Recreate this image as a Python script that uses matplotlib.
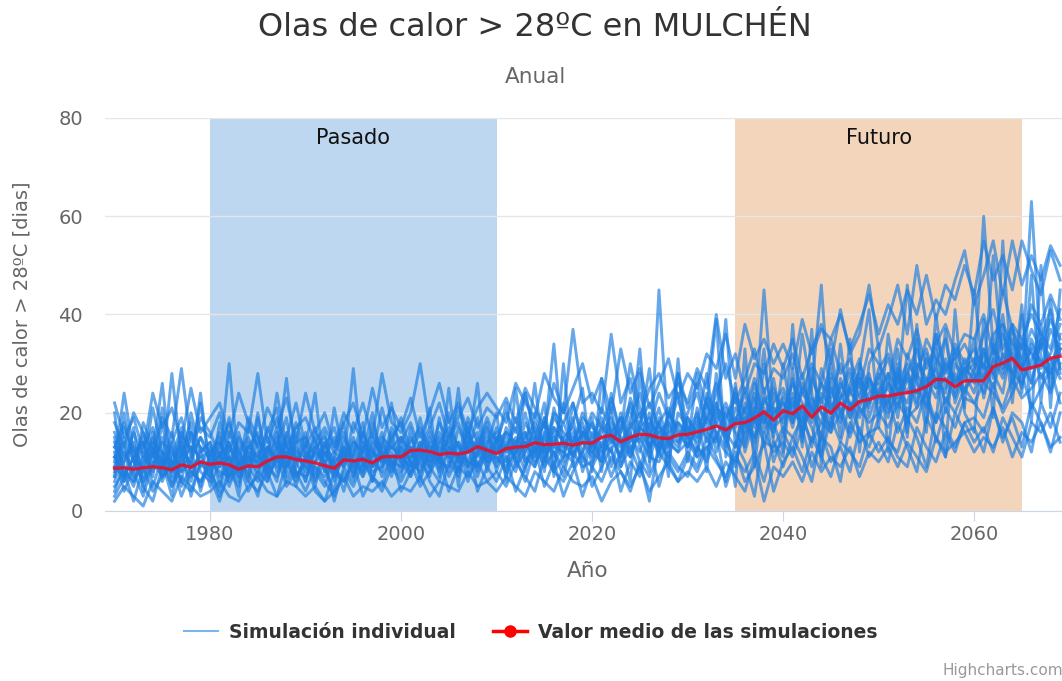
import matplotlib
matplotlib.use("Agg")
import matplotlib.pyplot as plt
from matplotlib.lines import Line2D

# years of the simulations (chart is cut at the right, around 2069)
years = list(range(1970, 2070))

# mean of the simulations (red line)
mean_values = [
    8.7, 8.8, 8.5, 8.8, 9.0, 8.8, 8.4, 9.4, 8.9, 10.0,
    9.5, 9.8, 9.4, 8.5, 9.2, 9.0, 10.2, 11.0, 11.0, 10.5,
    10.2, 9.8, 9.2, 8.7, 10.4, 10.2, 10.5, 9.8, 11.0, 11.1,
    11.0, 12.3, 12.4, 12.1, 11.5, 11.8, 11.6, 12.0, 13.1, 12.4,
    11.7, 12.7, 13.0, 13.1, 13.9, 13.5, 13.6, 13.8, 13.4, 13.9,
    13.8, 15.0, 15.4, 14.1, 15.0, 15.6, 15.5, 14.9, 14.7, 15.5,
    15.6, 16.1, 16.6, 17.3, 16.5, 17.8, 18.0, 18.9, 20.2, 18.5,
    20.4, 19.8, 21.4, 19.1, 21.2, 19.9, 22.0, 20.6, 22.3, 22.7,
    23.4, 23.4, 23.8, 24.1, 24.5, 25.3, 26.8, 26.7, 25.3, 26.5,
    26.5, 26.5, 29.4, 30.1, 31.1, 28.7, 29.2, 29.7, 31.1, 31.5,
]

# individual simulations (blue lines)
sim_01 = [
    14, 9, 5, 12, 7, 18, 6, 10, 13, 4, 11, 16, 8, 5, 14, 9, 12, 17, 7, 10,
    6, 13, 9, 4, 15, 11, 8, 18, 12, 7, 14, 10, 19, 9, 6, 13, 11, 16, 8, 12,
    9, 17, 13, 8, 20, 12, 15, 10, 22, 14, 11, 18, 9, 16, 21, 13, 8, 45, 14, 12,
    19, 15, 23, 12, 18, 25, 14, 21, 17, 27, 16, 24, 20, 13, 29, 22, 18, 26, 31, 19,
    25, 21, 33, 18, 28, 24, 36, 20, 30, 27, 35, 23, 31, 40, 26, 34, 29, 38, 25, 33,
]
sim_02 = [
    6, 12, 8, 3, 10, 7, 14, 5, 9, 11, 8, 4, 13, 10, 6, 15, 9, 7, 12, 5,
    12, 8, 5, 11, 9, 6, 14, 10, 8, 16, 9, 13, 7, 15, 11, 8, 17, 12, 19, 10,
    14, 11, 8, 16, 12, 19, 9, 15, 11, 17, 13, 21, 16, 10, 18, 14, 20, 12, 17, 23,
    15, 12, 20, 26, 16, 13, 22, 18, 45, 20, 23, 17, 26, 21, 15, 28, 24, 19, 30, 25,
    22, 28, 19, 32, 26, 21, 30, 35, 24, 29, 27, 60, 33, 28, 37, 30, 26, 35, 41, 29,
]
sim_03 = [
    10, 24, 12, 7, 15, 9, 28, 11, 6, 13, 5, 10, 30, 8, 11, 7, 13, 9, 15, 11,
    9, 7, 12, 8, 10, 29, 9, 13, 7, 11, 12, 8, 10, 14, 9, 16, 10, 13, 11, 15,
    10, 13, 17, 11, 9, 15, 34, 12, 16, 10, 15, 12, 14, 19, 11, 17, 15, 13, 20, 16,
    13, 18, 15, 22, 14, 19, 17, 24, 13, 21, 18, 22, 16, 25, 46, 19, 27, 21, 24, 28,
    20, 26, 23, 29, 22, 31, 27, 24, 33, 28, 30, 26, 34, 29, 32, 28, 63, 31, 27, 36,
]
sim_04 = [
    2, 5, 3, 1, 6, 4, 2, 7, 5, 3, 4, 6, 3, 2, 5, 7, 4, 3, 6, 5,
    3, 5, 2, 4, 7, 3, 5, 4, 6, 3, 5, 4, 7, 3, 6, 5, 4, 8, 5, 6,
    4, 7, 5, 3, 8, 6, 4, 9, 6, 5, 7, 2, 6, 8, 5, 9, 4, 7, 10, 6,
    8, 6, 9, 5, 10, 7, 4, 11, 2, 9, 7, 10, 6, 12, 8, 11, 9, 13, 7, 12,
    10, 13, 9, 14, 11, 8, 15, 12, 14, 16, 12, 15, 13, 17, 11, 16, 14, 18, 13, 15,
]
sim_05 = [
    18, 13, 20, 16, 11, 19, 15, 29, 14, 17, 15, 20, 12, 18, 16, 28, 14, 19, 13, 17,
    19, 14, 17, 13, 20, 16, 22, 15, 28, 18, 16, 20, 30, 17, 22, 15, 19, 23, 17, 21,
    19, 23, 18, 25, 21, 17, 26, 20, 37, 22, 24, 20, 36, 22, 27, 19, 25, 28, 23, 26,
    22, 29, 25, 40, 27, 32, 24, 30, 28, 34, 29, 35, 27, 33, 38, 30, 41, 32, 36, 46,
    33, 39, 46, 36, 50, 38, 43, 40, 47, 53, 42, 48, 55, 44, 55, 46, 52, 47, 54, 50,
]
sim_06 = [
    9, 7, 11, 14, 8, 12, 10, 6, 16, 9, 13, 9, 11, 7, 10, 12, 8, 14, 11, 16,
    11, 9, 7, 10, 12, 8, 13, 9, 11, 14, 10, 15, 11, 9, 13, 12, 8, 14, 16, 11,
    13, 10, 15, 12, 17, 11, 14, 18, 13, 16, 12, 16, 19, 14, 11, 17, 15, 21, 13, 18,
    16, 20, 14, 18, 22, 17, 21, 15, 23, 19, 22, 18, 25, 20, 23, 17, 26, 22, 19, 24,
    26, 22, 28, 24, 30, 27, 23, 31, 26, 29, 31, 27, 33, 30, 28, 35, 32, 29, 37, 33,
]
sim_07 = [
    12, 4, 9, 15, 5, 11, 8, 13, 3, 10, 7, 12, 5, 10, 8, 3, 11, 15, 6, 9,
    14, 6, 10, 2, 9, 13, 7, 11, 16, 8, 13, 7, 11, 16, 10, 9, 14, 6, 12, 18,
    8, 14, 11, 6, 13, 9, 12, 7, 15, 11, 9, 13, 7, 12, 16, 10, 2, 14, 11, 8,
    12, 9, 15, 11, 6, 14, 10, 3, 16, 12, 14, 11, 17, 9, 15, 13, 6, 18, 14, 16,
    17, 14, 12, 19, 15, 9, 20, 17, 13, 18, 19, 16, 21, 14, 20, 18, 12, 22, 17, 24,
]
sim_08 = [
    7, 15, 10, 9, 21, 12, 5, 9, 11, 22, 9, 14, 10, 6, 12, 11, 16, 21, 9, 13,
    8, 12, 10, 7, 11, 15, 9, 12, 10, 13, 11, 9, 14, 12, 8, 13, 11, 10, 15, 12,
    12, 15, 10, 14, 11, 19, 13, 12, 10, 16, 14, 11, 17, 13, 15, 12, 18, 16, 10, 20,
    17, 14, 19, 16, 13, 21, 18, 15, 20, 17, 19, 23, 17, 21, 18, 25, 20, 24, 22, 26,
    23, 25, 21, 27, 24, 26, 29, 22, 28, 25, 27, 30, 25, 32, 28, 26, 31, 34, 29, 32,
]
sim_09 = [
    11, 8, 6, 10, 12, 7, 9, 14, 8, 6, 10, 8, 7, 12, 9, 6, 10, 11, 14, 8,
    7, 10, 12, 9, 6, 10, 11, 8, 9, 12, 8, 11, 13, 10, 12, 7, 11, 9, 13, 10,
    11, 9, 12, 14, 10, 13, 8, 11, 12, 9, 10, 14, 12, 9, 13, 15, 11, 10, 14, 12,
    14, 11, 13, 15, 12, 10, 16, 19, 14, 13, 17, 15, 19, 14, 18, 16, 20, 15, 21, 18,
    20, 17, 22, 19, 21, 24, 18, 23, 20, 25, 22, 26, 24, 21, 27, 23, 25, 28, 24, 30,
]
sim_10 = [
    16, 11, 13, 6, 9, 14, 12, 8, 10, 15, 12, 7, 9, 14, 11, 8, 13, 10, 12, 7,
    10, 16, 13, 8, 12, 10, 7, 15, 11, 9, 15, 12, 9, 11, 14, 17, 13, 10, 9, 14,
    16, 12, 19, 13, 15, 10, 17, 14, 13, 19, 17, 15, 12, 20, 14, 18, 22, 17, 15, 13,
    20, 24, 17, 21, 19, 23, 16, 26, 18, 22, 25, 21, 28, 19, 26, 23, 30, 24, 27, 21,
    29, 32, 26, 30, 27, 35, 31, 28, 34, 30, 33, 29, 36, 38, 34, 31, 37, 33, 39, 35,
]
sim_11 = [
    4, 10, 14, 8, 16, 6, 11, 17, 7, 12, 14, 5, 16, 11, 7, 19, 10, 6, 15, 22,
    13, 24, 8, 11, 18, 7, 12, 20, 9, 15, 18, 9, 12, 21, 7, 25, 9, 13, 26, 8,
    15, 7, 12, 24, 16, 8, 21, 13, 18, 25, 8, 27, 15, 11, 23, 17, 29, 12, 19, 24,
    13, 28, 21, 39, 11, 26, 12, 19, 33, 15, 30, 18, 36, 24, 12, 33, 21, 16, 29, 41,
    17, 36, 24, 46, 28, 16, 40, 25, 32, 21, 45, 27, 52, 30, 38, 24, 48, 22, 43, 28,
]
sim_12 = [
    20, 6, 17, 4, 13, 10, 3, 12, 18, 8, 6, 18, 11, 3, 17, 13, 6, 12, 27, 10,
    16, 5, 14, 10, 4, 12, 18, 6, 13, 10, 7, 17, 6, 13, 10, 20, 5, 18, 7, 13,
    20, 6, 25, 9, 14, 22, 7, 30, 9, 12, 19, 8, 24, 14, 6, 28, 12, 19, 7, 31,
    10, 21, 8, 28, 17, 5, 33, 9, 25, 14, 11, 29, 13, 37, 9, 27, 15, 35, 12, 30,
    34, 12, 30, 15, 38, 18, 33, 11, 41, 20, 16, 39, 19, 55, 25, 42, 18, 50, 21, 45,
]
sim_13 = [
    8, 13, 6, 11, 9, 15, 7, 12, 10, 5, 12, 9, 14, 7, 11, 10, 15, 8, 13, 11,
    9, 12, 16, 6, 13, 10, 8, 14, 12, 9, 13, 10, 8, 12, 15, 11, 14, 9, 12, 16,
    12, 16, 14, 10, 13, 18, 11, 15, 17, 12, 16, 13, 18, 15, 12, 17, 19, 14, 16, 18,
    15, 19, 16, 14, 21, 18, 24, 17, 22, 25, 20, 26, 22, 18, 24, 21, 25, 29, 23, 27,
    24, 28, 25, 22, 29, 33, 26, 30, 27, 24, 29, 33, 27, 36, 31, 25, 34, 30, 32, 38,
]
sim_14 = [
    5, 8, 2, 9, 4, 7, 10, 3, 8, 6, 9, 3, 7, 10, 4, 8, 6, 11, 5, 8,
    4, 9, 6, 3, 8, 5, 10, 7, 4, 9, 6, 10, 5, 8, 11, 4, 9, 7, 10, 6,
    8, 5, 10, 7, 4, 11, 8, 6, 10, 3, 9, 6, 11, 8, 4, 10, 7, 12, 9, 6,
    11, 8, 13, 10, 7, 12, 6, 9, 14, 4, 10, 13, 8, 15, 11, 7, 14, 12, 9, 16,
    12, 15, 11, 9, 17, 13, 10, 16, 12, 18, 14, 17, 12, 19, 15, 11, 18, 16, 20, 14,
]
sim_15 = [
    22, 15, 19, 12, 24, 17, 21, 14, 25, 16, 19, 22, 15, 24, 18, 13, 21, 17, 23, 14,
    24, 16, 20, 13, 18, 22, 15, 25, 17, 21, 17, 23, 15, 20, 26, 18, 22, 16, 21, 24,
    21, 18, 26, 22, 19, 28, 23, 20, 25, 30, 22, 27, 20, 33, 24, 29, 21, 26, 31, 23,
    28, 25, 32, 29, 36, 27, 38, 31, 35, 30, 34, 29, 39, 32, 37, 35, 40, 33, 38, 44,
    36, 42, 38, 45, 40, 48, 39, 46, 43, 50, 44, 55, 47, 52, 45, 55, 49, 44, 53, 47,
]
sim_16 = [
    13, 18, 10, 16, 12, 8, 14, 19, 11, 15, 10, 13, 18, 12, 15, 10, 17, 13, 9, 14,
    15, 11, 13, 17, 10, 14, 12, 9, 15, 13, 11, 14, 17, 13, 10, 15, 18, 12, 14, 11,
    17, 13, 11, 18, 14, 12, 19, 16, 14, 20, 15, 19, 14, 17, 22, 16, 13, 18, 21, 15,
    19, 16, 22, 18, 15, 24, 20, 27, 19, 16, 24, 20, 18, 27, 22, 30, 19, 25, 28, 22,
    27, 31, 24, 28, 33, 25, 36, 29, 31, 34, 30, 36, 41, 33, 38, 35, 40, 36, 33, 41,
]
sim_17 = [
    3, 7, 11, 5, 2, 9, 13, 6, 4, 10, 7, 2, 9, 13, 6, 4, 8, 3, 10, 6,
    11, 4, 2, 8, 6, 10, 3, 7, 5, 11, 4, 8, 12, 6, 3, 10, 7, 14, 4, 9,
    6, 11, 4, 9, 13, 5, 10, 3, 8, 12, 5, 9, 13, 4, 10, 7, 14, 5, 12, 9,
    7, 13, 10, 16, 5, 11, 8, 12, 6, 14, 9, 15, 11, 6, 16, 10, 13, 8, 17, 11,
    14, 10, 18, 13, 8, 19, 15, 11, 20, 16, 17, 12, 21, 15, 19, 13, 22, 18, 12, 20,
]
sim_18 = [
    9, 17, 12, 14, 10, 21, 9, 16, 12, 19, 16, 11, 14, 9, 19, 15, 11, 24, 13, 10,
    13, 17, 11, 15, 9, 18, 14, 11, 21, 14, 19, 12, 16, 11, 18, 14, 21, 15, 13, 19,
    14, 20, 16, 24, 15, 13, 20, 18, 22, 15, 20, 17, 23, 16, 30, 21, 17, 24, 19, 28,
    21, 26, 18, 24, 30, 22, 27, 33, 24, 29, 27, 32, 24, 30, 26, 35, 28, 31, 25, 33,
    30, 26, 35, 31, 37, 29, 34, 38, 32, 36, 35, 40, 32, 45, 37, 33, 42, 38, 44, 39,
]
sim_19 = [
    15, 6, 9, 13, 17, 10, 5, 11, 16, 13, 11, 15, 6, 9, 13, 16, 7, 11, 8, 15,
    6, 14, 10, 12, 16, 9, 11, 6, 14, 10, 9, 13, 10, 7, 14, 11, 8, 17, 9, 13,
    11, 8, 14, 16, 9, 15, 12, 9, 14, 18, 12, 10, 16, 19, 13, 8, 17, 11, 15, 14,
    18, 13, 11, 20, 15, 9, 19, 14, 21, 10, 16, 12, 21, 17, 11, 19, 14, 22, 16, 13,
    19, 23, 16, 21, 18, 25, 14, 21, 17, 23, 22, 19, 26, 20, 24, 28, 21, 25, 29, 22,
]
sim_20 = [
    11, 14, 7, 18, 13, 9, 16, 8, 20, 12, 14, 10, 19, 8, 13, 11, 9, 16, 10, 18,
    12, 10, 14, 9, 13, 11, 16, 12, 10, 17, 14, 18, 12, 10, 16, 13, 11, 19, 14, 10,
    15, 12, 13, 20, 11, 16, 13, 22, 12, 14, 18, 13, 15, 11, 19, 24, 16, 12, 20, 17,
    13, 17, 28, 15, 20, 16, 13, 23, 18, 24, 19, 27, 15, 23, 20, 17, 23, 28, 20, 22,
    28, 20, 24, 27, 21, 32, 25, 27, 23, 30, 26, 32, 28, 24, 35, 29, 33, 27, 30, 34,
]
sim_21 = [
    7, 20, 10, 6, 12, 26, 8, 14, 9, 24, 8, 12, 7, 16, 9, 20, 8, 13, 19, 7,
    10, 15, 8, 21, 11, 7, 16, 9, 13, 22, 10, 7, 14, 8, 19, 10, 25, 8, 12, 9,
    13, 22, 9, 12, 26, 10, 16, 11, 19, 8, 14, 10, 21, 9, 15, 33, 10, 18, 12, 28,
    16, 11, 24, 19, 39, 13, 20, 12, 30, 18, 12, 38, 14, 29, 20, 16, 34, 19, 27, 15,
    24, 19, 29, 16, 35, 22, 18, 37, 22, 28, 24, 33, 28, 38, 22, 40, 26, 35, 31, 27,
]
sim_22 = [
    13, 10, 16, 11, 14, 12, 9, 15, 13, 11, 12, 14, 10, 15, 12, 9, 13, 11, 16, 12,
    11, 13, 15, 12, 10, 14, 12, 16, 11, 13, 15, 11, 13, 17, 12, 14, 10, 15, 13, 17,
    14, 16, 12, 15, 18, 13, 17, 14, 11, 16, 13, 17, 15, 14, 17, 20, 13, 16, 18, 14,
    17, 15, 19, 22, 16, 18, 25, 19, 16, 20, 22, 19, 24, 21, 26, 20, 23, 25, 21, 27,
    23, 26, 22, 28, 24, 27, 25, 29, 26, 31, 28, 24, 31, 27, 33, 29, 35, 30, 28, 33,
]

simulations = [sim_01, sim_02, sim_03, sim_04, sim_05, sim_06, sim_07, sim_08,
               sim_09, sim_10, sim_11, sim_12, sim_13, sim_14, sim_15, sim_16,
               sim_17, sim_18, sim_19, sim_20, sim_21, sim_22]

# reference periods
past_period = (1980, 2010)
future_period = (2035, 2065)
x_ticks = [1980, 2000, 2020, 2040, 2060]
y_ticks = [0, 20, 40, 60, 80]


def main():
    plt.rcParams['font.family'] = ['DejaVu Sans']

    fig = plt.figure(figsize=(10.62, 6.81), dpi=100)
    ax = fig.add_axes([105 / 1062, 1 - 511 / 681, 1 - 105 / 1062, (511 - 118) / 681])

    # shaded periods
    ax.axvspan(*past_period, color='#bdd7f0', zorder=0, lw=0)
    ax.axvspan(*future_period, color='#f2d5bb', zorder=0, lw=0)
    ax.text(sum(past_period) / 2, 75.9, 'Pasado', ha='center', va='center',
            fontsize=15, color='#111111')
    ax.text(sum(future_period) / 2, 75.9, 'Futuro', ha='center', va='center',
            fontsize=15, color='#111111')

    # individual simulations
    for sim in simulations:
        ax.plot(years, sim, color='#1f7fe0', alpha=0.68, lw=2.1, zorder=2)

    # mean line
    ax.plot(years, mean_values, color='#e8102a', alpha=0.9, lw=2.4, zorder=3)

    ax.set_xlim(1969, 2069.2)
    ax.set_ylim(0, 80)
    ax.set_xticks(x_ticks)
    ax.set_yticks(y_ticks)
    ax.grid(axis='y', color='#e6e6e6', lw=1, zorder=1)
    ax.set_axisbelow(True)
    for side in ['left', 'right', 'top']:
        ax.spines[side].set_visible(False)
    ax.spines['bottom'].set_color('#ccd6eb')
    ax.spines['bottom'].set_zorder(4)
    ax.tick_params(axis='x', length=7, color='#ccd6eb', labelsize=14,
                   labelcolor='#666666', pad=3)
    ax.tick_params(axis='y', length=0, labelsize=14, labelcolor='#666666', pad=16)

    # titles and axis labels
    fig.text(535 / 1062, 1 - 27 / 681, 'Olas de calor > 28ºC en MULCHÉN',
             ha='center', va='center', fontsize=23, color='#333333')
    fig.text(535 / 1062, 1 - 77 / 681, 'Anual', ha='center', va='center',
             fontsize=15.5, color='#666666')
    fig.text(588 / 1062, 1 - 571 / 681, 'Año', ha='center', va='center',
             fontsize=15.5, color='#666666')
    fig.text(22 / 1062, 1 - 314 / 681, 'Olas de calor > 28ºC [dias]', ha='center',
             va='center', rotation=90, fontsize=14, color='#666666')

    # legend
    handles = [
        Line2D([], [], color='#7cb5ec', lw=1.5),
        Line2D([], [], color='#ff0000', lw=2.5, marker='o', markersize=8),
    ]
    labels = ['Simulación individual', 'Valor medio de las simulaciones']
    fig.legend(handles, labels, loc='center', bbox_to_anchor=(531 / 1062, 1 - 632 / 681),
               ncol=2, frameon=False, prop={'weight': 'bold', 'size': 13.5},
               labelcolor='#333333', handlelength=1.8, handletextpad=0.6,
               columnspacing=2.0)

    fig.text(943 / 1062, 1 - 670 / 681, 'Highcharts.com', ha='left', va='center',
             fontsize=11, color='#999999')

    fig.savefig('out.png', dpi=100)


if __name__ == "__main__":
    main()
